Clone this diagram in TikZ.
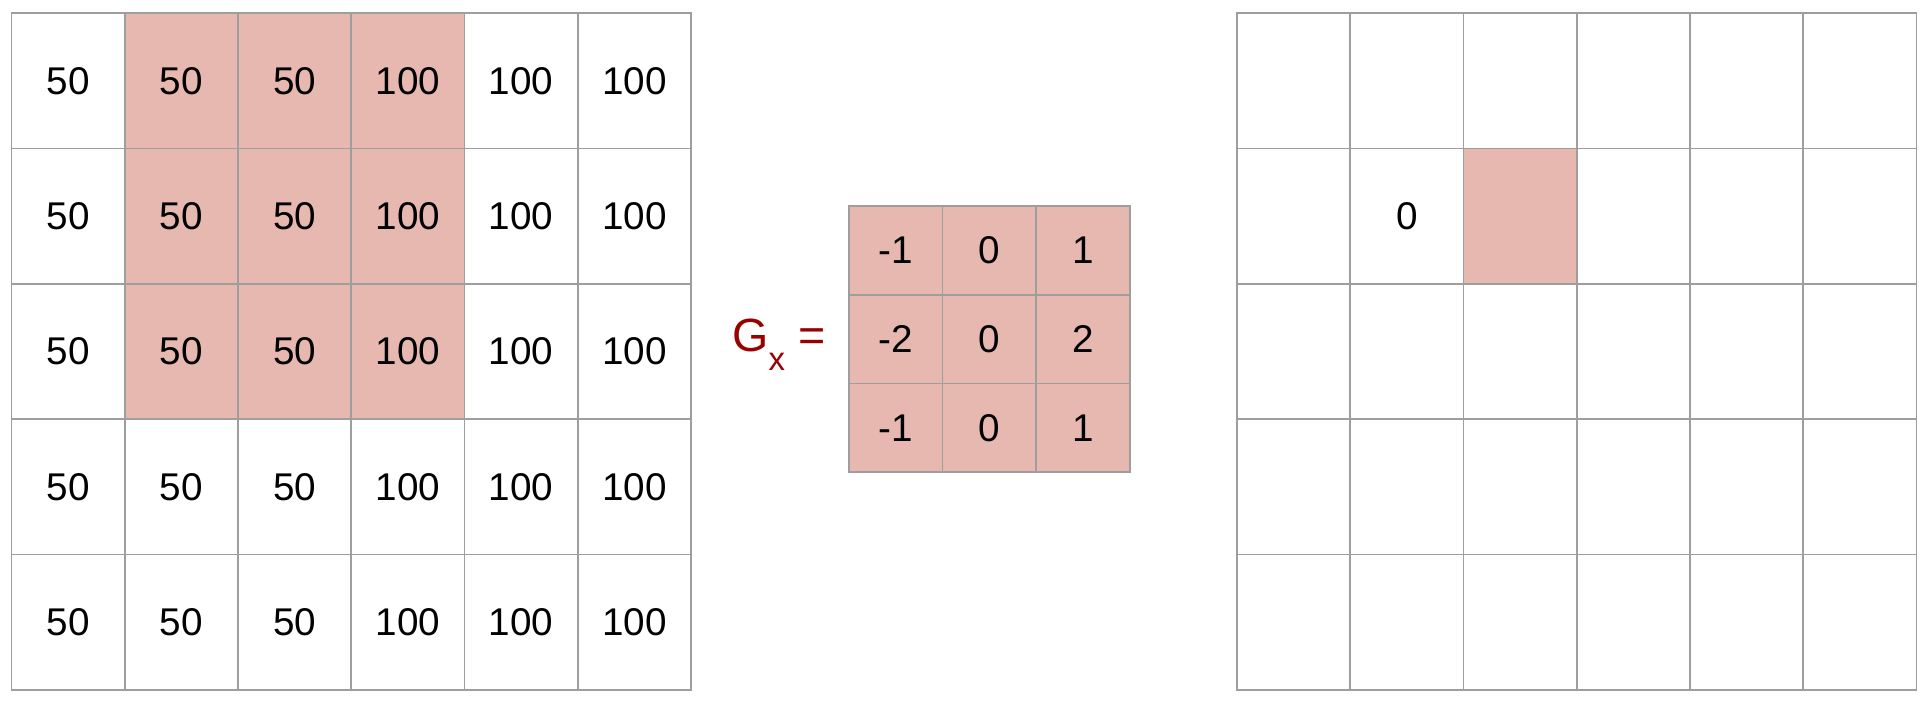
\documentclass[tikz,border=0pt]{standalone}
\usepackage{fontspec}
\setmainfont{Liberation Sans}
\usepackage{xcolor}
\definecolor{Cell-pink}{HTML}{E6B8AF}
\definecolor{Grid-gray}{HTML}{9E9E9E}
\definecolor{Label-red}{HTML}{990000}
\usetikzlibrary{positioning,calc}

\begin{document}
\begin{tikzpicture} [ % cell styles first
            line width=0.035cm, font=\fontsize{22}{26}\selectfont,
            cell/.style = {rectangle, minimum width = 2.265cm, minimum height = 2.706cm, inner sep=0pt, draw=Grid-gray},
            cell-target/.style = {cell, fill=Cell-pink},
            kcell/.style = {rectangle, minimum width = 1.872cm, minimum height = 1.774cm, inner sep=0pt, draw=Grid-gray, fill=Cell-pink},
            label/.style = {text=Label-red, inner sep=0pt, font=\fontsize{26.5}{30}\selectfont}
        ]

        \useasboundingbox (0,0) rectangle (38.6,-14.08);

        % left image
        \foreach \r in {0,...,4} {
            \foreach \c in {0,...,5} {
                \pgfmathtruncatemacro{\hit}{(\r<3)*(\c>0)*(\c<4)}
                \ifnum\hit=1 \def\cellstyle{cell-target}\else\def\cellstyle{cell}\fi
                \node [\cellstyle] (l-\r-\c) at ({1.3625+2.265*\c},{-1.619-2.706*\r}) {\ifnum\c<3 50\else 100\fi};
            }
        }

        % kernel
        \node [kcell] (k-0-0) at (17.916,-5.007) {-1};
        \node [kcell] (k-0-1) at (19.788,-5.007) {0};
        \node [kcell] (k-0-2) at (21.660,-5.007) {1};
        \node [kcell] (k-1-0) at (17.916,-6.781) {-2};
        \node [kcell] (k-1-1) at (19.788,-6.781) {0};
        \node [kcell] (k-1-2) at (21.660,-6.781) {2};
        \node [kcell] (k-2-0) at (17.916,-8.555) {-1};
        \node [kcell] (k-2-1) at (19.788,-8.555) {0};
        \node [kcell] (k-2-2) at (21.660,-8.555) {1};

        % G_x =
        \node [label, anchor=base east] (gx) at ($(k-1-0.west)+(-0.44,-0.247)$)
            {G\raisebox{-0.42em}{\fontsize{18.7}{20}\selectfont x} =};

        % right image
        \foreach \r in {0,...,4} {
            \foreach \c in {0,...,5} {
                \pgfmathtruncatemacro{\hit}{(\r==1)*(\c==2)}
                \ifnum\hit=1 \def\cellstyle{cell-target}\else\def\cellstyle{cell}\fi
                \node [\cellstyle] (r-\r-\c) at ({25.8725+2.265*\c},{-1.619-2.706*\r}) {};
            }
        }
        \node at (r-1-1) {0};

\end{tikzpicture}
\end{document}
